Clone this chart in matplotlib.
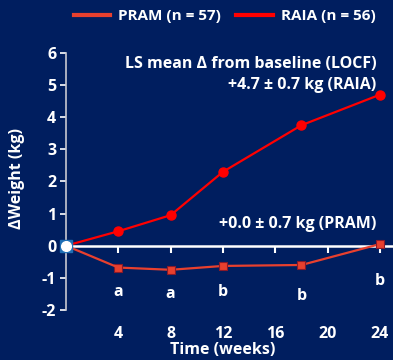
import matplotlib
matplotlib.use("Agg")
import matplotlib.pyplot as plt
from matplotlib.lines import Line2D

plt.rcParams['font.family'] = ['Open Sans', 'DejaVu Sans']
plt.rcParams['font.weight'] = 'bold'
plt.rcParams['axes.unicode_minus'] = False

BG = '#001e5f'
FG = 'white'

weeks = [0, 4, 8, 12, 18, 24]
raia = [0.0, 0.45, 0.95, 2.3, 3.75, 4.7]
pram = [0.0, -0.68, -0.75, -0.63, -0.6, 0.05]
sig_letters = ['a', 'a', 'b', 'b', 'b']
sig_y = [-1.45, -1.5, -1.45, -1.55, -1.1]
xticks = [4, 8, 12, 16, 20, 24]
yticks = [-2, -1, 0, 1, 2, 3, 4, 5, 6]

fig = plt.figure(figsize=(3.93, 3.6), dpi=100, facecolor=BG)
ax = fig.add_axes([0.168, 0.139, 0.832, 0.714], facecolor=BG)

pram_c = '#e8402e'
raia_c = '#ff0000'

ax.plot(weeks[1:], pram[1:], color=pram_c, lw=1.6, marker='s', ms=6,
        mfc=pram_c, mec='#8a1a2a', mew=0.8, zorder=3)
ax.plot(weeks[:2], pram[:2], color=pram_c, lw=1.6, zorder=3)
ax.plot(weeks[1:], raia[1:], color=raia_c, lw=1.6, marker='o', ms=6.5,
        mfc=raia_c, mec=raia_c, zorder=3)
ax.plot(weeks[:2], raia[:2], color=raia_c, lw=1.6, zorder=3)
# shared baseline point
ax.plot([0], [0], marker='s', ms=8, color='#1f6fb5', zorder=4, clip_on=False)
ax.plot([0], [0], marker='o', ms=7, color='white', zorder=5, clip_on=False)

for w, s, y in zip(weeks[1:], sig_letters, sig_y):
    ax.text(w, y, s, color=FG, fontsize=11.5, ha='center', va='center')

ax.set_xlim(0, 25)
ax.set_ylim(-2, 6)
ax.set_yticks(yticks)
ax.set_xticks(xticks)

for s in ['top', 'right']:
    ax.spines[s].set_visible(False)
ax.spines['left'].set_color('#c8c8d0')
ax.spines['left'].set_linewidth(1.2)
ax.spines['bottom'].set_position(('data', 0))
ax.spines['bottom'].set_color(FG)
ax.spines['bottom'].set_linewidth(1.8)

ax.tick_params(axis='y', colors=FG, labelsize=11.5, length=4, width=1.2,
               direction='out', pad=3)
ax.tick_params(axis='x', colors=FG, labelsize=11.5, length=5, width=1.5,
               direction='out', pad=53)

ax.text(0.95, 0.955, 'LS mean Δ from baseline (LOCF)', transform=ax.transAxes,
        color=FG, fontsize=11.5, ha='right', va='center')
ax.text(0.95, 0.875, '+4.7 ± 0.7 kg (RAIA)', transform=ax.transAxes,
        color=FG, fontsize=11.5, ha='right', va='center')
ax.text(0.95, 0.335, '+0.0 ± 0.7 kg (PRAM)', transform=ax.transAxes,
        color=FG, fontsize=11.5, ha='right', va='center')

fig.text(0.043, 0.503, 'ΔWeight (kg)', rotation=90, color=FG, fontsize=11.5,
         ha='center', va='center')
fig.text(0.566, 0.006, 'Time (weeks)', color=FG, fontsize=11.5,
         ha='center', va='bottom')

handles = [Line2D([], [], color=pram_c, lw=3),
           Line2D([], [], color=raia_c, lw=3)]
fig.legend(handles, ['PRAM (n = 57)', 'RAIA (n = 56)'], loc='center right',
           bbox_to_anchor=(0.99, 0.955), ncol=2, frameon=False, fontsize=11,
           labelcolor=FG, handlelength=2.4, columnspacing=1.0,
           handletextpad=0.5)

fig.savefig('out.png', dpi=100, facecolor=BG)
